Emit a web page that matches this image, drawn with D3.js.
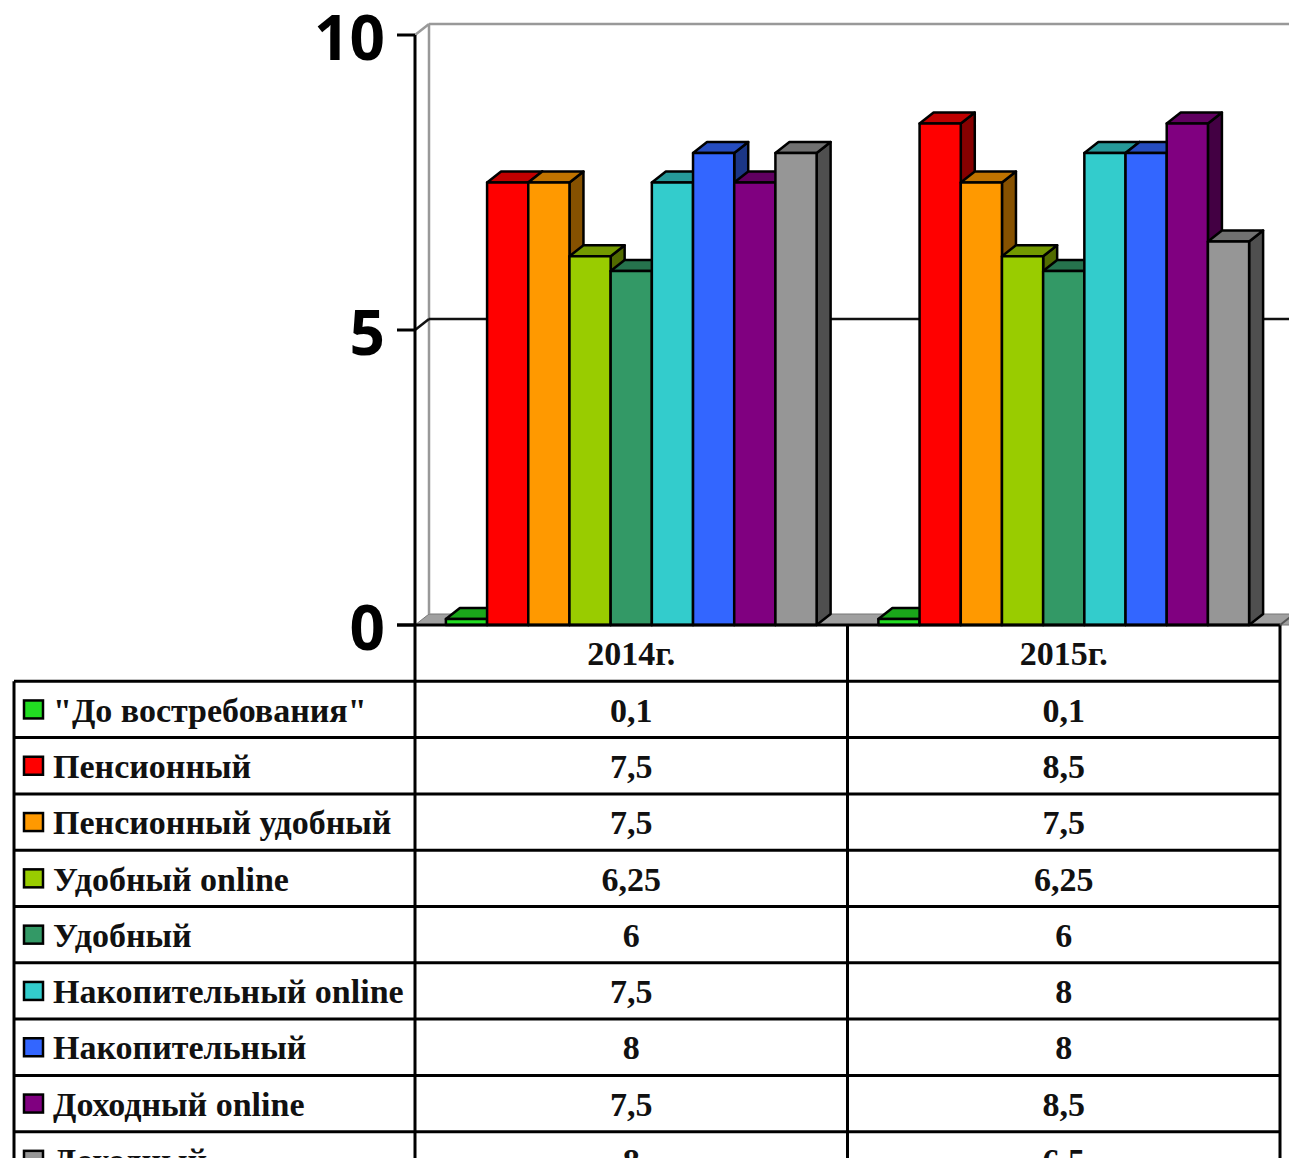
<!DOCTYPE html>
<html lang="ru">
<head>
<meta charset="utf-8">
<title>Ставки по вкладам</title>
<script src="https://d3js.org/d3.v7.min.js"></script>
<style>
  body { margin: 0; background: #fff; }
  svg { display: block; }
  .ylab { font-family: "Open Sans", sans-serif; font-weight: 700; font-size: 62px; fill: #000; }
  .cell { font-family: "Liberation Serif", "Times New Roman", serif; font-weight: 700; font-size: 34px; fill: #111; }
</style>
</head>
<body>
<svg id="chart" width="1289" height="1158"></svg>
<script>
// ---- data ------------------------------------
var years = ['2014г.', '2015г.'];
var seriesNames = ['"До востребования"', 'Пенсионный', 'Пенсионный удобный', 'Удобный online',
  'Удобный', 'Накопительный online', 'Накопительный', 'Доходный online', 'Доходный'];
var values2014 = [0.1, 7.5, 7.5, 6.25, 6, 7.5, 8, 7.5, 8];
var values2015 = [0.1, 8.5, 7.5, 6.25, 6, 8, 8, 8.5, 6.5];
var seriesColors = ['#22dd22', '#ff0000', '#ff9900', '#99cc00', '#339966',
  '#33cccc', '#3366ff', '#800080', '#969696'];
var yTicks = [0, 5, 10];

var valuesByYear = [values2014, values2015];

// ---- layout ------------------------------------
var svg = d3.select('#chart');
var plotLeft = 415, plotRight = 1280, plotBottom = 625, plotTop = 35;
var dx = 14, dy = -11;  // 3d depth offset

var y = d3.scaleLinear()
  .domain([0, 10])
  .range([plotBottom, plotTop]);

var x = d3.scaleBand()
  .domain(years)
  .range([plotLeft, plotRight]);

var xInner = d3.scaleBand()
  .domain(seriesNames)
  .range([0, x.bandwidth()])
  .paddingOuter(0.75);

function pts(arr) {
  return arr.map(function(p) { return p.join(','); }).join(' ');
}

// ---- walls & floor ------------------------------------
var walls = svg.append('g');

walls.append('polygon')
  .attr('points', pts([[plotLeft, plotBottom], [plotRight + 20, plotBottom],
    [plotRight + 20 + dx, plotBottom + dy], [plotLeft + dx, plotBottom + dy]]))
  .attr('fill', '#a0a0a0')
  .attr('stroke', '#777')
  .attr('stroke-width', 1);

walls.append('line')
  .attr('x1', plotLeft + dx).attr('x2', plotLeft + dx)
  .attr('y1', y(10) + dy).attr('y2', plotBottom + dy)
  .attr('stroke', '#999').attr('stroke-width', 2.5);

walls.append('line')
  .attr('x1', plotLeft + dx).attr('x2', 1300)
  .attr('y1', y(10) + dy).attr('y2', y(10) + dy)
  .attr('stroke', '#999').attr('stroke-width', 2.5);

walls.append('line')
  .attr('x1', plotLeft).attr('x2', plotLeft + dx)
  .attr('y1', y(10)).attr('y2', y(10) + dy)
  .attr('stroke', '#999').attr('stroke-width', 2.5);

// gridline at 5
walls.append('line')
  .attr('x1', plotLeft + dx).attr('x2', 1300)
  .attr('y1', y(5) + dy).attr('y2', y(5) + dy)
  .attr('stroke', '#111').attr('stroke-width', 2.5);

walls.append('line')
  .attr('x1', plotLeft).attr('x2', plotLeft + dx)
  .attr('y1', y(5)).attr('y2', y(5) + dy)
  .attr('stroke', '#111').attr('stroke-width', 2.5);

// ---- bars ------------------------------------
var bars = svg.append('g');
var barData = [];
years.forEach(function(yr, gi) {
  seriesNames.forEach(function(s, si) {
    barData.push({ year: yr, series: s, value: valuesByYear[gi][si], color: seriesColors[si] });
  });
});

var bar = bars.selectAll('g.bar')
  .data(barData)
  .enter()
  .append('g')
  .attr('class', 'bar')
  .attr('stroke', '#000')
  .attr('stroke-width', 2.5)
  .attr('stroke-linejoin', 'round');

bar.append('polygon')
  .attr('points', function(d) {
    var x0 = x(d.year) + xInner(d.series), x1 = x0 + xInner.bandwidth(), yt = y(d.value);
    return pts([[x1, yt], [x1 + dx, yt + dy], [x1 + dx, plotBottom + dy], [x1, plotBottom]]);
  })
  .attr('fill', function(d) { return d3.color(d.color).darker(1.8); });

bar.append('polygon')
  .attr('points', function(d) {
    var x0 = x(d.year) + xInner(d.series), x1 = x0 + xInner.bandwidth(), yt = y(d.value);
    return pts([[x0, yt], [x0 + dx, yt + dy], [x1 + dx, yt + dy], [x1, yt]]);
  })
  .attr('fill', function(d) { return d3.color(d.color).darker(0.8); });

bar.append('rect')
  .attr('x', function(d) { return x(d.year) + xInner(d.series); })
  .attr('y', function(d) { return y(d.value); })
  .attr('width', xInner.bandwidth())
  .attr('height', function(d) { return plotBottom - y(d.value); })
  .attr('fill', function(d) { return d.color; });

// ---- y axis ------------------------------------
var axis = svg.append('g');

axis.append('line')
  .attr('x1', plotLeft).attr('x2', plotLeft)
  .attr('y1', y(10)).attr('y2', plotBottom)
  .attr('stroke', '#000').attr('stroke-width', 3);

axis.selectAll('line.tick')
  .data(yTicks)
  .enter()
  .append('line')
  .attr('class', 'tick')
  .attr('x1', plotLeft - 18).attr('x2', plotLeft)
  .attr('y1', function(d) { return y(d); })
  .attr('y2', function(d) { return y(d); })
  .attr('stroke', '#000').attr('stroke-width', 3);

axis.selectAll('text')
  .data(yTicks)
  .enter()
  .append('text')
  .attr('class', 'ylab')
  .attr('x', plotLeft - 30)
  .attr('y', function(d) { return y(d); })
  .attr('dy', '0.4em')
  .attr('text-anchor', 'end')
  .text(function(d) { return d; });

// ---- data table ------------------------------------
var tableLeft = 14, headerTop = plotBottom, rowH = 56.3;
var rowsTop = headerTop + rowH;

var row = d3.scaleBand()
  .domain(seriesNames)
  .range([rowsTop, rowsTop + rowH * seriesNames.length]);

var table = svg.append('g');

function fmt(v) { return String(v).replace('.', ','); }

// header
table.selectAll('text.head')
  .data(years)
  .enter()
  .append('text')
  .attr('class', 'cell head')
  .attr('x', function(d) { return x(d) + x.bandwidth() / 2; })
  .attr('y', headerTop + rowH / 2)
  .attr('dy', '0.36em')
  .attr('text-anchor', 'middle')
  .text(function(d) { return d; });

// legend keys + labels
table.selectAll('rect.key')
  .data(seriesNames)
  .enter()
  .append('rect')
  .attr('class', 'key')
  .attr('x', 24)
  .attr('y', function(d) { return row(d) + row.bandwidth() / 2 - 9; })
  .attr('width', 19)
  .attr('height', 18)
  .attr('fill', function(d, i) { return seriesColors[i]; })
  .attr('stroke', '#000')
  .attr('stroke-width', 2.5);

table.selectAll('text.label')
  .data(seriesNames)
  .enter()
  .append('text')
  .attr('class', 'cell label')
  .attr('x', 53)
  .attr('y', function(d) { return row(d) + row.bandwidth() / 2; })
  .attr('dy', '0.36em')
  .text(function(d) { return d; });

years.forEach(function(yr, gi) {
  table.selectAll('text.v' + gi)
    .data(valuesByYear[gi])
    .enter()
    .append('text')
    .attr('class', 'cell v' + gi)
    .attr('x', x(yr) + x.bandwidth() / 2)
    .attr('y', function(d, i) { return row(seriesNames[i]) + row.bandwidth() / 2; })
    .attr('dy', '0.36em')
    .attr('text-anchor', 'middle')
    .text(function(d) { return fmt(d); });
});

// grid lines of the table
var lineW = 3;
table.append('line')
  .attr('x1', plotLeft - 18).attr('x2', plotRight)
  .attr('y1', headerTop).attr('y2', headerTop)
  .attr('stroke', '#000').attr('stroke-width', lineW);

var hLines = seriesNames.map(function(s) { return row(s); });
hLines.push(row(seriesNames[seriesNames.length - 1]) + row.bandwidth());

table.selectAll('line.h')
  .data(hLines)
  .enter()
  .append('line')
  .attr('class', 'h')
  .attr('x1', tableLeft).attr('x2', plotRight)
  .attr('y1', function(d) { return d; })
  .attr('y2', function(d) { return d; })
  .attr('stroke', '#000').attr('stroke-width', lineW);

var vLines = [plotLeft, x(years[1]), plotRight];
table.selectAll('line.v')
  .data(vLines)
  .enter()
  .append('line')
  .attr('class', 'v')
  .attr('x1', function(d) { return d; })
  .attr('x2', function(d) { return d; })
  .attr('y1', headerTop)
  .attr('y2', hLines[hLines.length - 1])
  .attr('stroke', '#000').attr('stroke-width', lineW);

table.append('line')
  .attr('x1', tableLeft).attr('x2', tableLeft)
  .attr('y1', rowsTop)
  .attr('y2', hLines[hLines.length - 1])
  .attr('stroke', '#000').attr('stroke-width', lineW);

// floor front-right corner edge
svg.append('line')
  .attr('x1', plotRight).attr('x2', plotRight + dx)
  .attr('y1', plotBottom).attr('y2', plotBottom + dy)
  .attr('stroke', '#555').attr('stroke-width', 2);
</script>
</body>
</html>
